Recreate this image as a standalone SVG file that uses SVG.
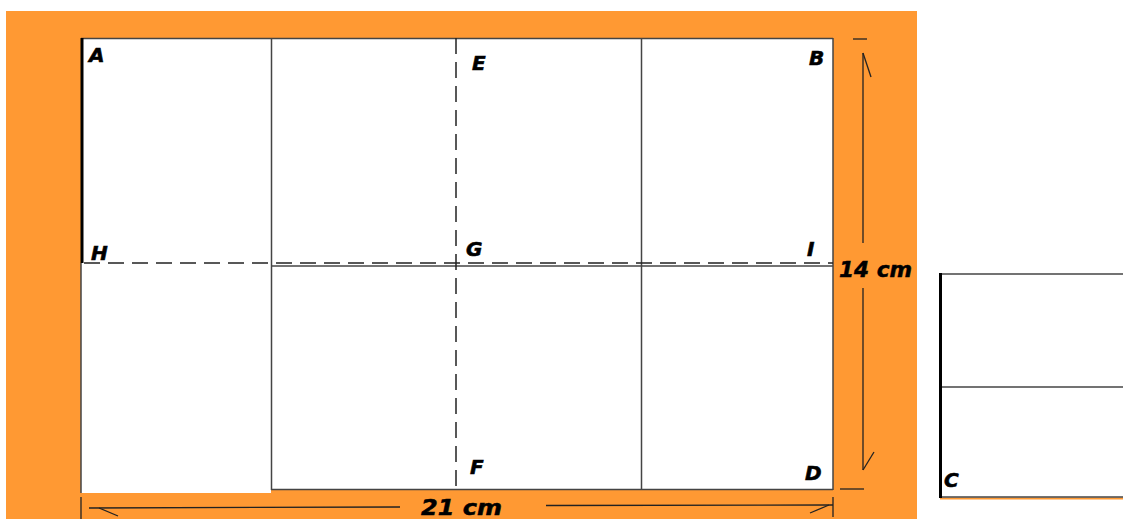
<svg xmlns="http://www.w3.org/2000/svg" width="1123" height="519" viewBox="0 0 1123 519">
<style>
.thin{stroke:#444;stroke-width:1.5;fill:none}
.dash{stroke:#222;stroke-width:1.5;fill:none;stroke-dasharray:16 8}
.dim{stroke:#222;stroke-width:1.3;fill:none}
.lbl{font-family:"DejaVu Sans",Verdana,sans-serif;font-weight:bold;font-style:italic;font-size:20px;fill:#000;stroke:#000;stroke-width:0.6}
.dimt{font-family:"DejaVu Sans",Verdana,sans-serif;font-weight:bold;font-style:italic;font-size:21px;fill:#000;stroke:#000;stroke-width:0.5}
</style>
<rect x="0" y="0" width="1123" height="519" fill="#fff"/>
<rect id="background" x="6" y="11" width="911" height="508" fill="#FF9933"/>
<g id="paper">
<rect x="81" y="38" width="752" height="452" fill="#fff"/>
<rect x="81" y="489" width="190" height="4" fill="#fff"/>
<line class="thin" x1="81" y1="38.5" x2="833" y2="38.5"/>
<line class="thin" x1="833" y1="38" x2="833" y2="490"/>
<line class="thin" x1="271" y1="489.5" x2="833" y2="489.5"/>
<line class="thin" x1="81" y1="263" x2="81" y2="493"/>
<line x1="82" y1="38" x2="82" y2="263" stroke="#000" stroke-width="3"/>
<line class="thin" x1="271.5" y1="38" x2="271.5" y2="490"/>
<line class="thin" x1="641.5" y1="38" x2="641.5" y2="490"/>
<line class="thin" x1="271" y1="266" x2="833" y2="266"/>
<line class="dash" x1="84" y1="263" x2="833" y2="263"/>
<line class="dash" x1="456" y1="38" x2="456" y2="490" stroke-dasharray="14 7"/>
</g>
<g id="second-sheet">
<rect x="940" y="273" width="190" height="225" fill="#fff"/>
<line x1="940" y1="498.5" x2="1123" y2="498.5" stroke="#FF9933" stroke-width="2"/>
<line class="thin" x1="940" y1="274" x2="1123" y2="274"/>
<line class="thin" x1="940" y1="387" x2="1123" y2="387"/>
<line class="thin" x1="940" y1="497" x2="1123" y2="497"/>
<line x1="940.5" y1="273" x2="940.5" y2="498" stroke="#000" stroke-width="3"/>
</g>
<g id="labels">
<text class="lbl" x="89" y="62">A</text>
<text class="lbl" x="472" y="70">E</text>
<text class="lbl" x="809" y="65">B</text>
<text class="lbl" x="91" y="260">H</text>
<text class="lbl" x="466" y="256">G</text>
<text class="lbl" x="807" y="256">I</text>
<text class="lbl" x="470" y="474">F</text>
<text class="lbl" x="805" y="480">D</text>
<text class="lbl" x="944" y="487">C</text>
</g>
<g id="connectors">
<line class="dim" x1="853" y1="39" x2="867" y2="39"/>
<line class="dim" x1="840" y1="489" x2="864" y2="489"/>
<line class="dim" x1="863" y1="53" x2="863" y2="243"/>
<line class="dim" x1="863" y1="288" x2="863" y2="470"/>
<line class="dim" x1="863" y1="53" x2="871" y2="77"/>
<line class="dim" x1="863" y1="470" x2="874" y2="452"/>
<line class="dim" x1="81" y1="497" x2="81" y2="519"/>
<line class="dim" x1="833" y1="497" x2="833" y2="517"/>
<line class="dim" x1="89" y1="508" x2="400" y2="507"/>
<line class="dim" x1="546" y1="505.5" x2="833" y2="505"/>
<line class="dim" x1="99" y1="508" x2="118" y2="516"/>
<line class="dim" x1="829" y1="505" x2="810" y2="513"/>
<text class="dimt" x="839" y="277" textLength="73" lengthAdjust="spacingAndGlyphs">14 cm</text>
<text class="dimt" x="421" y="515" textLength="81" lengthAdjust="spacingAndGlyphs">21 cm</text>
</g>
</svg>
